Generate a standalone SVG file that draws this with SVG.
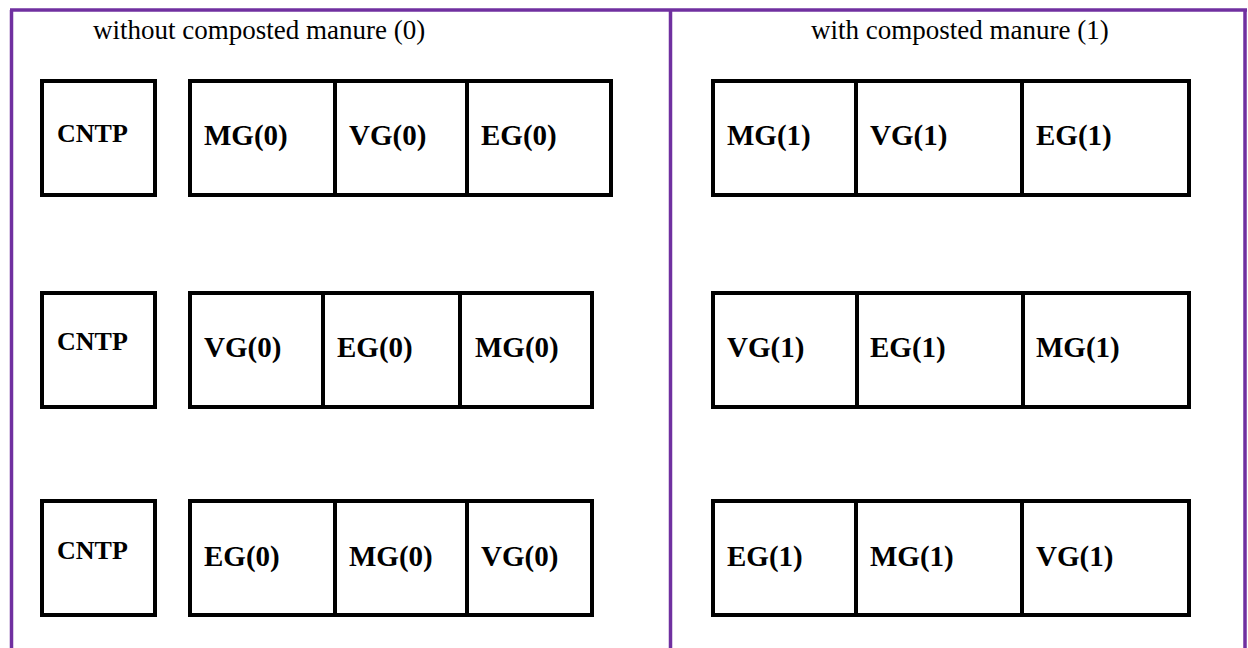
<svg xmlns="http://www.w3.org/2000/svg" width="1248" height="648" viewBox="0 0 1248 648">
<style>
.frame{stroke:#7030A0;stroke-width:3.5;fill:none}
.box{fill:#fff;stroke:#000;stroke-width:4}
.div{stroke:#000;stroke-width:4}
.lbl{font-family:"Liberation Serif","Times New Roman",serif;font-weight:bold;font-size:29px;fill:#000}
.cntp{font-family:"Liberation Serif","Times New Roman",serif;font-weight:bold;font-size:26px;fill:#000}
.title{font-family:"Liberation Serif","Times New Roman",serif;font-size:27px;fill:#000}
</style>
<rect width="1248" height="648" fill="#fff"/>
<g id="frame">
<line class="frame" x1="10" y1="10" x2="1247" y2="10"/>
<line class="frame" x1="11.5" y1="10" x2="11.5" y2="648"/>
<line class="frame" x1="670.5" y1="10" x2="670.5" y2="648"/>
<line class="frame" x1="1245" y1="10" x2="1245" y2="648"/>
</g>
<g id="title-left"><text class="title" x="93" y="39">without composted manure (0)</text></g>
<g id="title-right"><text class="title" x="811" y="39">with composted manure (1)</text></g>

<g id="cntp-1"><rect class="box" x="42" y="81" width="113" height="114"/><text class="cntp" x="57" y="142">CNTP</text></g>
<g id="row1-left">
<rect class="box" x="190" y="81" width="421" height="114"/>
<line class="div" x1="335" y1="81" x2="335" y2="195"/>
<line class="div" x1="467" y1="81" x2="467" y2="195"/>
<text class="lbl" x="204" y="145">MG(0)</text>
<text class="lbl" x="349" y="145">VG(0)</text>
<text class="lbl" x="481" y="145">EG(0)</text>
</g>
<g id="row1-right">
<rect class="box" x="713" y="81" width="476" height="114"/>
<line class="div" x1="856" y1="81" x2="856" y2="195"/>
<line class="div" x1="1022" y1="81" x2="1022" y2="195"/>
<text class="lbl" x="727" y="145">MG(1)</text>
<text class="lbl" x="870" y="145">VG(1)</text>
<text class="lbl" x="1036" y="145">EG(1)</text>
</g>

<g id="cntp-2"><rect class="box" x="42" y="293" width="113" height="114"/><text class="cntp" x="57" y="350">CNTP</text></g>
<g id="row2-left">
<rect class="box" x="190" y="293" width="402" height="114"/>
<line class="div" x1="323" y1="293" x2="323" y2="407"/>
<line class="div" x1="460" y1="293" x2="460" y2="407"/>
<text class="lbl" x="204" y="357">VG(0)</text>
<text class="lbl" x="337" y="357">EG(0)</text>
<text class="lbl" x="475" y="357">MG(0)</text>
</g>
<g id="row2-right">
<rect class="box" x="713" y="293" width="476" height="114"/>
<line class="div" x1="857" y1="293" x2="857" y2="407"/>
<line class="div" x1="1023" y1="293" x2="1023" y2="407"/>
<text class="lbl" x="727" y="357">VG(1)</text>
<text class="lbl" x="870" y="357">EG(1)</text>
<text class="lbl" x="1036" y="357">MG(1)</text>
</g>

<g id="cntp-3"><rect class="box" x="42" y="501" width="113" height="114"/><text class="cntp" x="57" y="559">CNTP</text></g>
<g id="row3-left">
<rect class="box" x="190" y="501" width="402" height="114"/>
<line class="div" x1="335" y1="501" x2="335" y2="615"/>
<line class="div" x1="467" y1="501" x2="467" y2="615"/>
<text class="lbl" x="204" y="566">EG(0)</text>
<text class="lbl" x="349" y="566">MG(0)</text>
<text class="lbl" x="481" y="566">VG(0)</text>
</g>
<g id="row3-right">
<rect class="box" x="713" y="501" width="476" height="114"/>
<line class="div" x1="856" y1="501" x2="856" y2="615"/>
<line class="div" x1="1022" y1="501" x2="1022" y2="615"/>
<text class="lbl" x="727" y="566">EG(1)</text>
<text class="lbl" x="870" y="566">MG(1)</text>
<text class="lbl" x="1036" y="566">VG(1)</text>
</g>
</svg>
